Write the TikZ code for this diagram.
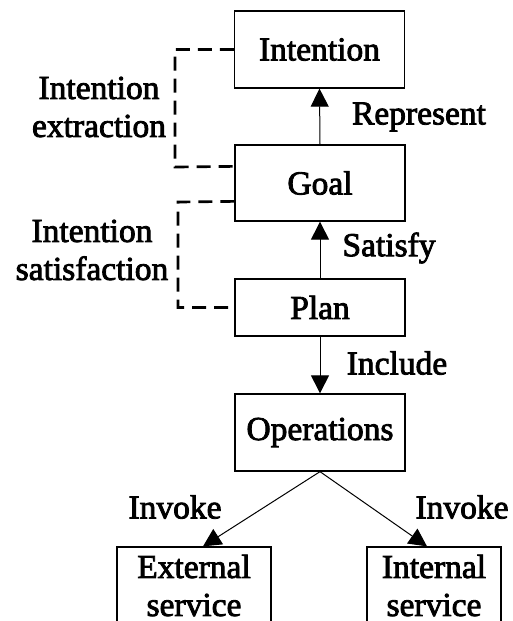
\documentclass[tikz,border=0pt]{standalone}
\usepackage{fontspec}
\setmainfont[FakeBold=2.5]{Liberation Serif}
\usetikzlibrary{arrows.meta,calc}
\begin{document}
\begin{tikzpicture}[x=1pt,y=-1pt,
  every node/.style={font=\fontsize{33.5}{38}\selectfont},
  box/.style={draw,line width=1.3pt,minimum width=170pt,inner sep=0pt,align=center},
  arr/.style={line width=1pt,-{Triangle[length=18pt,width=18pt]}},
  bracket/.style={line width=2.7pt,dash pattern=on 14pt off 8pt},
  lbl/.style={inner sep=0pt,align=center}]
\useasboundingbox (0,0) rectangle (512,621);
\clip (0,0) rectangle (512,621);
\fill[white] (0,0) rectangle (512,621);

% main chain
\node[box,minimum height=77pt] (intention) at (319.5,49.5) {Intention};
\node[box,minimum height=76pt] (goal) at (320,183) {Goal};
\node[box,minimum height=57pt] (plan) at (320,307.5) {Plan};
\node[box,minimum height=77pt] (ops) at (320,432.5) {Operations};
\node[box,minimum width=154pt,minimum height=77pt] (ext) at (194,585.5) {External\\service};
\node[box,minimum width=134pt,minimum height=77pt] (int) at (434,585.5) {Internal\\service};

% relations
\draw[arr] (goal.north) -- (intention.south);
\draw[arr] (plan.north) -- (goal.south);
\draw[arr] (plan.south) -- (ops.north);
\draw[arr] (ops.south) -- ([xshift=9pt]ext.north);
\draw[arr] (ops.south) -- ([xshift=-7pt]int.north);

\node[lbl] (represent) at (419,117) {Represent};
\node[lbl] (satisfy) at (389,248) {Satisfy};
\node[lbl] (include) at (397,363) {Include};
\node[lbl] (invokeL) at (175,507) {Invoke};
\node[lbl] (invokeR) at (462,507) {Invoke};

% phase brackets
\draw[bracket] (intention.west) -- (175,49.5) -- (175,167) -- ($(goal.north west)+(0,22)$);
\draw[bracket] ($(goal.north west)+(0,57)$) -- (178,202) -- (178,307.5) -- (plan.west);

\node[lbl] (extraction) at (99,107) {Intention\\extraction};
\node[lbl] (satisfaction) at (92,250) {Intention\\satisfaction};
\end{tikzpicture}
\end{document}
